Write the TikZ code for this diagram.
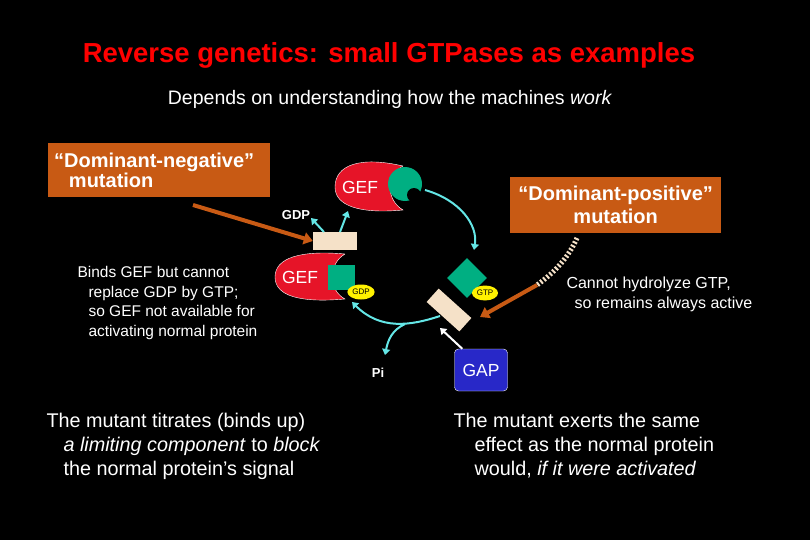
\documentclass[tikz,border=0pt]{standalone}
\usepackage{fontspec}
\setmainfont{Liberation Sans}
\usetikzlibrary{arrows.meta,positioning,shapes.geometric}
\definecolor{boxbrown}{RGB}{200,90,20}
\definecolor{gefred}{RGB}{230,20,40}
\definecolor{teal}{RGB}{0,175,130}
\definecolor{cyanarr}{RGB}{100,230,230}
\definecolor{stripe}{RGB}{150,80,40}
\definecolor{beige}{RGB}{245,225,200}
\definecolor{gapblue}{RGB}{40,40,200}
\begin{document}
\begin{tikzpicture}[x=1pt,y=-1pt,
    txt/.style={text=white, font=\fontsize{15.5}{19.5}\selectfont, align=left},
    mutbox/.style={fill=boxbrown, text=white, font=\bfseries\fontsize{20}{23}\selectfont, align=center, inner sep=0pt},
    gef/.style={fill=gefred, draw=white, thin},
    geflabel/.style={text=white, font=\fontsize{17.5}{18}\selectfont},
    nucl/.style={ellipse, fill=yellow, inner sep=1pt, minimum width=26pt, minimum height=15pt, font=\fontsize{8}{9}\selectfont},
    hatch/.style={fill=beige, draw=none, path picture={
        \foreach \i in {-60,-51,...,60}
          \draw[stripe, line width=2.6pt] ([xshift=\i pt, yshift=-20pt]path picture bounding box.center) -- ++(40,40);}},
    cyc/.style={cyanarr, line width=2pt, -{Triangle[length=6pt,width=8pt]}},
    brownarr/.style={boxbrown, line width=4pt, -{Triangle[length=9pt,width=12pt]}},
    small/.style={text=white, font=\bfseries\fontsize{13}{14}\selectfont}]
\useasboundingbox[fill=black] (0,0) rectangle (810,540);

% headings
\node[text=red, font=\bfseries\fontsize{27.5}{30}\selectfont] (title) at (389,55) {Reverse genetics: small GTPases as examples};
\node[text=white, font=\fontsize{19.5}{22}\selectfont] (sub) at (390,99) {Depends on understanding how the machines \textit{work}};

% mutation boxes
\node[mutbox, minimum width=222pt, minimum height=54pt, anchor=north west] (neg) at (48,143) {\raisebox{6pt}{\hspace*{-10pt}``Dominant-negative''}\\[-9pt]\hspace*{-96pt}mutation};
\node[mutbox, minimum width=211pt, minimum height=56pt, anchor=north west] (pos) at (510,177) {``Dominant-positive''\\mutation};

% top GEF with GTPase
\draw[gef] (403,166) .. controls (360,156) and (335,165) .. (335,187) .. controls (335,206) and (360,214) .. (403,210) .. controls (386,200) and (386,176) .. (403,166);
\node[geflabel] (gef1) at (360,187) {GEF};
\fill[teal] (405,184) circle (17);
\fill[black] (414,195) circle (7);

% bottom GEF with square and GDP
\draw[gef] (345,254) .. controls (300,250) and (275,258) .. (275,277) .. controls (275,296) and (300,303) .. (345,299) .. controls (328,290) and (328,264) .. (345,254);
\node[geflabel] (gef2) at (300,277) {GEF};
\fill[teal] (328,265) rectangle (355,290);
\node[nucl] (gdp2) at (361,292) {GDP};

% GTP-bound state
\fill[teal, rotate around={45:(467,278)}] (453,264) rectangle (481,292);
\node[nucl] (gtp) at (485,293) {GTP};

% mutant proteins (hatched)
\node[hatch, minimum width=44pt, minimum height=18pt] (mutneg) at (335,241) {};
\node[hatch, minimum width=44pt, minimum height=18pt, rotate=-42] (mutpos) at (449,310) {};

% labels
\node[small] (gdp1) at (296,215) {GDP};
\node[small] (pi) at (378,373) {Pi};
\node[fill=gapblue, draw=white, rounded corners=4pt, minimum width=53pt, minimum height=42pt, text=white, font=\fontsize{17.5}{18}\selectfont] (gap) at (481,370) {GAP};

% cycle arrows
\coordinate (c1) at (324,232);
\coordinate (c2) at (340,232);
\coordinate (branch) at (405,324);
\draw[cyc] (c1) -- (311,218);
\draw[cyc] (c2) -- (348,211);
\draw[cyc] (425,190) .. controls (460,200) and (478,225) .. (474,250);
\draw[cyc] (440,316) .. controls (410,326) and (380,330) .. (352,302);
\draw[cyc] (branch) .. controls (392,330) and (388,340) .. (385,355);
\draw[white, line width=2pt, -{Triangle[length=6pt,width=8pt]}] (gap.north west) ++(8,0) -- (440,328);

% mutation arrows
\draw[brownarr] (193,205) -- (mutneg.west);
\draw[beige, line width=5pt, dash pattern=on 2pt off 2pt] (577,238) .. controls (568,258) and (555,272) .. (537,285);
\draw[brownarr] (537,285) -- (480,317);

% side texts
\node[txt, anchor=north west] (bindtxt) at (74,263) {Binds GEF but cannot\\\hspace*{11pt}replace GDP by GTP;\\\hspace*{11pt}so GEF not available for\\\hspace*{11pt}activating normal protein};
\node[txt, anchor=north west, font=\fontsize{16}{20}\selectfont] (hydtxt) at (563,273) {Cannot hydrolyze GTP,\\\hspace*{8pt}so remains always active};
\node[txt, anchor=north west, font=\fontsize{19.8}{24}\selectfont] (titrate) at (43,410) {The mutant titrates (binds up)\\\hspace*{17pt}\textit{a limiting component} to \textit{block}\\\hspace*{17pt}the normal protein’s signal};
\node[txt, anchor=north west, font=\fontsize{19.8}{24}\selectfont] (exert) at (450,410) {The mutant exerts the same\\\hspace*{21pt}effect as the normal protein\\\hspace*{21pt}would, \textit{if it were activated}};
\end{tikzpicture}
\end{document}
